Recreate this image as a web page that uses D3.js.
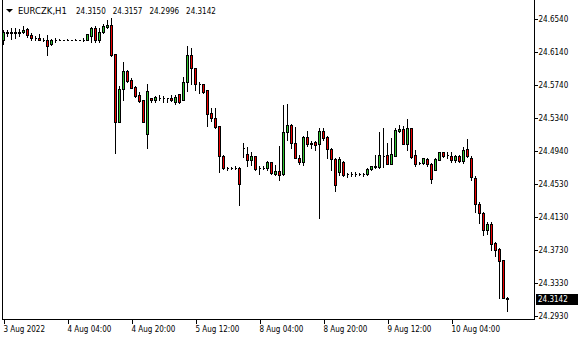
<!DOCTYPE html>
<html>
<head>
<meta charset="utf-8">
<script src="https://cdn.jsdelivr.net/npm/d3@7"></script>
<style>
  body { margin: 0; background: #fff; }
  text { font-family: "DejaVu Sans Condensed", "Liberation Sans", sans-serif; font-size: 8px; fill: #000; }
  text.symbol { font-family: "DejaVu Sans", "Liberation Sans", sans-serif; font-size: 8.5px; }
</style>
</head>
<body>
<div id="chart"></div>
<script>
const width = 580;
const height = 340;

// EURCZK H1 candles, oldest first
const opens = [
24.6281,24.6378,24.6382,24.6378,24.6375,24.6378,24.6418,24.6346,24.6306,24.6313,
24.6290,24.6281,24.6233,24.6285,24.6285,24.6285,24.6286,24.6285,24.6285,24.6286,
24.6285,24.6288,24.6337,24.6434,24.6288,24.6378,24.6443,24.6467,24.6111,24.5292,
24.5689,24.5908,24.5799,24.5717,24.5616,24.5556,24.5139,24.5576,24.5552,24.5583,
24.5578,24.5576,24.5583,24.5528,24.5625,24.5559,24.5771,24.6102,24.5941,24.5754,
24.5746,24.5673,24.5394,24.5333,24.5236,24.4871,24.4725,24.4723,24.4733,24.4733,
24.4968,24.4903,24.4823,24.4871,24.4725,24.4731,24.4725,24.4798,24.4660,24.4689,
24.4652,24.5163,24.5252,24.5029,24.4847,24.4798,24.5102,24.5036,24.5041,24.5017,
24.5179,24.5102,24.4960,24.4835,24.4684,24.4802,24.4652,24.4650,24.4656,24.4656,
24.4652,24.4652,24.4717,24.4741,24.4741,24.4875,24.4883,24.4781,24.4878,24.5179,
24.5203,24.5024,24.5212,24.4883,24.4790,24.4790,24.4835,24.4774,24.4708,24.4830,
24.4920,24.4891,24.4878,24.4823,24.4871,24.4810,24.4960,24.4854,24.4604,24.4291,
24.4182,24.3979,24.4048,24.3817,24.3741,24.3614,24.3150];
const highs = [
24.6406,24.6406,24.6427,24.6427,24.6418,24.6459,24.6427,24.6366,24.6330,24.6354,
24.6313,24.6346,24.6297,24.6306,24.6292,24.6290,24.6291,24.6290,24.6292,24.6290,
24.6309,24.6361,24.6443,24.6451,24.6434,24.6483,24.6524,24.6549,24.6111,24.5726,
24.6021,24.5920,24.5827,24.5729,24.5656,24.5559,24.5746,24.5583,24.5600,24.5616,
24.5600,24.5583,24.5616,24.5616,24.5632,24.5835,24.6208,24.6191,24.5945,24.5778,
24.5754,24.5681,24.5462,24.5462,24.5239,24.4887,24.4741,24.4741,24.4757,24.4741,
24.5033,24.4984,24.4927,24.4878,24.4757,24.4750,24.4814,24.4806,24.4765,24.5000,
24.5495,24.5503,24.5260,24.5227,24.4887,24.5118,24.5179,24.5057,24.5057,24.5212,
24.5212,24.5114,24.4976,24.4854,24.4863,24.4810,24.4668,24.4677,24.4684,24.4668,
24.4668,24.4725,24.4757,24.4887,24.5163,24.5212,24.5033,24.5090,24.5219,24.5252,
24.5243,24.5325,24.5219,24.4944,24.4798,24.4854,24.4854,24.4790,24.4847,24.4927,
24.4927,24.4920,24.4927,24.4887,24.4887,24.4981,24.5081,24.4871,24.4632,24.4319,
24.4198,24.4076,24.4069,24.3833,24.3753,24.3614,24.3157];
const lows = [
24.6240,24.6337,24.6297,24.6313,24.6333,24.6366,24.6321,24.6288,24.6288,24.6279,
24.6273,24.6102,24.6224,24.6264,24.6280,24.6279,24.6280,24.6281,24.6280,24.6279,
24.6269,24.6281,24.6264,24.6264,24.6264,24.6370,24.6434,24.6094,24.4917,24.5284,
24.5556,24.5778,24.5698,24.5596,24.5528,24.5284,24.4976,24.5528,24.5528,24.5552,
24.5528,24.5528,24.5543,24.5511,24.5519,24.5552,24.5665,24.5754,24.5673,24.5641,
24.5641,24.5243,24.5300,24.5219,24.4677,24.4717,24.4708,24.4713,24.4713,24.4279,
24.4863,24.4757,24.4765,24.4701,24.4660,24.4717,24.4701,24.4660,24.4644,24.4579,
24.4644,24.5066,24.4968,24.4845,24.4774,24.4765,24.5000,24.4968,24.4951,24.4125,
24.5066,24.4847,24.4701,24.4453,24.4644,24.4635,24.4623,24.4628,24.4635,24.4644,
24.4635,24.4644,24.4708,24.4733,24.4733,24.4741,24.4774,24.4774,24.4871,24.5163,
24.5017,24.4951,24.4847,24.4757,24.4781,24.4774,24.4750,24.4547,24.4701,24.4823,
24.4863,24.4847,24.4806,24.4806,24.4806,24.4790,24.4863,24.4587,24.4190,24.4064,
24.3915,24.3923,24.3736,24.3663,24.3145,24.3148,24.2996];
const closes = [
24.6378,24.6375,24.6370,24.6375,24.6378,24.6406,24.6346,24.6306,24.6303,24.6281,
24.6288,24.6216,24.6288,24.6284,24.6285,24.6286,24.6285,24.6285,24.6286,24.6285,
24.6290,24.6354,24.6434,24.6288,24.6378,24.6451,24.6467,24.6102,24.5292,24.5689,
24.5908,24.5786,24.5705,24.5608,24.5543,24.5292,24.5665,24.5552,24.5592,24.5585,
24.5576,24.5578,24.5552,24.5592,24.5528,24.5771,24.6102,24.5941,24.5746,24.5752,
24.5656,24.5382,24.5333,24.5227,24.4871,24.4725,24.4723,24.4725,24.4731,24.4538,
24.4966,24.4830,24.4871,24.4717,24.4723,24.4733,24.4798,24.4665,24.4689,24.4644,
24.5163,24.5252,24.5029,24.4847,24.4798,24.5102,24.5017,24.5017,24.5008,24.5179,
24.5090,24.4956,24.4835,24.4522,24.4835,24.4644,24.4650,24.4652,24.4654,24.4656,
24.4654,24.4717,24.4750,24.4757,24.4883,24.4873,24.4781,24.4895,24.5194,24.5203,
24.5024,24.5212,24.4863,24.4781,24.4790,24.4847,24.4774,24.4595,24.4838,24.4920,
24.4878,24.4890,24.4823,24.4878,24.4814,24.4948,24.4871,24.4616,24.4288,24.4182,
24.3979,24.4048,24.3809,24.3736,24.3602,24.3150,24.3142];

const priceTicks = [24.654, 24.614, 24.574, 24.534, 24.494, 24.453, 24.413, 24.373, 24.333, 24.293];
const timeTickIdx = [0, 16, 32, 48, 64, 80, 96, 112];
const timeTickLabels = ["3 Aug 2022", "4 Aug 04:00", "4 Aug 20:00", "5 Aug 12:00",
  "8 Aug 04:00", "8 Aug 20:00", "9 Aug 12:00", "10 Aug 04:00"];
const symbol = "EURCZK,H1";

const n = opens.length;
const last = n - 1;

const plotLeft = 2, plotRight = 534, plotBottom = 319;

const x = d3.scaleLinear()
    .domain([0, 1])
    .range([3, 7]);   // left pixel column of each candle centre, 4px per bar
const y = d3.scaleLinear()
    .domain([24.293, 24.654])
    .range([316, 19]);

const svg = d3.select("#chart")
    .append("svg")
        .attr("width", width)
        .attr("height", height)
        .attr("shape-rendering", "crispEdges");

// frame
svg.append("path")
    .attr("d", `M${plotLeft + 0.5},0 V${plotBottom + 0.5} H${plotRight + 0.5} V0`)
    .attr("fill", "none")
    .attr("stroke", "#000");

// price axis on the right
const yAxis = svg.append("g")
    .attr("transform", `translate(${plotRight + 0.5},0)`)
    .call(d3.axisRight(y)
        .tickValues(priceTicks)
        .tickFormat(d3.format(".4f"))
        .tickSize(3)
        .tickPadding(1));
yAxis.select(".domain").remove();
yAxis.selectAll("line").attr("stroke", "#000");
yAxis.selectAll("text").attr("font-size", null).attr("font-family", null).attr("fill", "#000");

// time axis at the bottom
const xAxis = svg.append("g")
    .attr("transform", `translate(0.5,${plotBottom + 0.5})`)
    .call(d3.axisBottom(x)
        .tickValues(timeTickIdx)
        .tickFormat((d, i) => timeTickLabels[i])
        .tickSize(4)
        .tickPadding(3));
xAxis.select(".domain").remove();
xAxis.selectAll("line").attr("stroke", "#000");
xAxis.selectAll("text")
    .attr("text-anchor", "start")
    .attr("x", -0.5)
    .attr("font-size", null).attr("font-family", null).attr("fill", "#000");

const idx = d3.range(n);

// wicks
svg.append("g")
    .selectAll("line")
    .data(idx)
    .join("line")
        .attr("x1", i => x(i) + 0.5)
        .attr("x2", i => x(i) + 0.5)
        .attr("y1", i => Math.round(y(highs[i])))
        .attr("y2", i => Math.round(y(lows[i])) + 1)
        .attr("stroke", "#000");

// bodies
svg.append("g")
    .selectAll("path")
    .data(idx)
    .join("path")
        .attr("d", i => {
            const t = Math.round(y(Math.max(opens[i], closes[i]))) + 0.5;
            const b = Math.round(y(Math.min(opens[i], closes[i]))) + 0.5;
            const l = x(i) - 0.5, r = x(i) + 1.5;
            return `M${l},${t}H${r}V${b}H${l}Z`;
        })
        .attr("fill", i => closes[i] > opens[i] ? "#2fc42f" : closes[i] < opens[i] ? "#ee0000" : "#000")
        .attr("stroke", "#000");

// last price marker
const lastY = Math.round(y(closes[last]));
svg.append("rect")
    .attr("x", plotRight + 2)
    .attr("y", lastY - 5)
    .attr("width", 42)
    .attr("height", 11)
    .attr("fill", "#000");
svg.append("text")
    .attr("x", plotRight + 4)
    .attr("y", lastY + 0.5)
    .attr("dy", "0.32em")
    .style("fill", "#fff")
    .text(d3.format(".4f")(closes[last]));

// header
svg.append("path")
    .attr("d", "M6,9 H13 L9.5,12.5 Z")
    .attr("fill", "#000")
    .attr("shape-rendering", "auto");
svg.append("text")
    .attr("class", "symbol")
    .attr("x", 18)
    .attr("y", 13.5)
    .text(symbol);
const ohlc = [opens[last], highs[last], lows[last], closes[last]];
svg.append("g")
    .selectAll("text")
    .data(ohlc)
    .join("text")
        .attr("x", (d, i) => 76 + i * 36.7)
        .attr("y", 13.5)
        .text(d => d3.format(".4f")(d));
</script>
</body>
</html>
